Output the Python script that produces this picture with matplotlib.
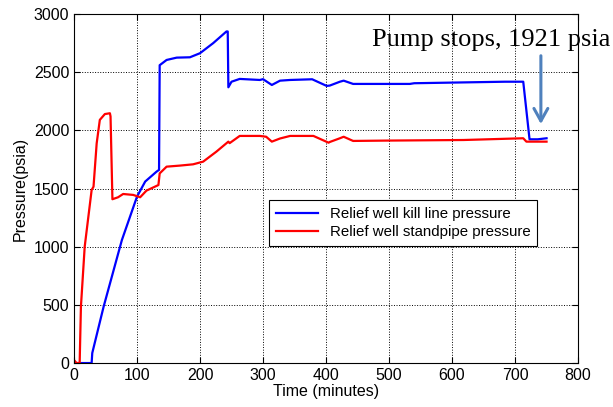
import matplotlib.pyplot as plt

# kill line pressure (blue)
kill_t = [0, 28, 29, 47, 76, 100, 113, 131, 135, 136, 147, 163, 184, 200, 221, 242, 244,
          245, 250, 263, 295, 300, 314, 327, 343, 378, 401, 406, 422, 428, 443, 533, 540,
          684, 713, 723, 736, 750]
kill_p = [0, 0, 86, 484, 1057, 1430, 1560, 1645, 1660, 2560, 2605, 2625, 2628, 2663,
          2750, 2850, 2850, 2370, 2418, 2442, 2433, 2440, 2390, 2427, 2433, 2439, 2382,
          2385, 2418, 2427, 2399, 2399, 2405, 2418, 2418, 1923, 1923, 1932]

# standpipe pressure (red)
stand_t = [0, 4, 9, 11, 17, 28, 31, 36, 41, 49, 57, 58, 61, 70, 78, 94, 105, 115, 134,
           136, 147, 168, 189, 205, 226, 245, 247, 263, 295, 305, 314, 327, 343, 380, 404,
           406, 422, 428, 443, 497, 618, 713, 718, 750]
stand_p = [26, 0, 0, 484, 1000, 1487, 1516, 1888, 2090, 2140, 2147, 2120, 1408, 1425,
           1453, 1445, 1425, 1482, 1530, 1630, 1688, 1697, 1708, 1731, 1817, 1903, 1890,
           1952, 1952, 1945, 1903, 1930, 1952, 1952, 1894, 1900, 1932, 1945, 1909, 1912,
           1917, 1932, 1903, 1903]

fig = plt.figure(figsize=(6.13, 4.07), dpi=100)
ax = fig.add_axes([0.1207, 0.108, 0.8223, 0.8576])

ax.plot(kill_t, kill_p, color="#0000ff", lw=1.6, label="Relief well kill line pressure")
ax.plot(stand_t, stand_p, color="#ff0000", lw=1.6, label="Relief well standpipe pressure")

ax.set_xlim(0, 800)
ax.set_ylim(0, 3000)
ax.set_xticks(range(0, 801, 100))
ax.set_yticks(range(0, 3001, 500))
ax.grid(True, color="black", linestyle=":", linewidth=0.7)
ax.tick_params(direction="in", top=True, right=True, labelsize=11.5, length=4)
for s in ax.spines.values():
    s.set_linewidth(0.8)
for lab in ax.get_xticklabels() + ax.get_yticklabels():
    lab.set_family("Liberation Sans")

ax.set_xlabel("Time (minutes)", family="Liberation Sans", fontsize=11.5, labelpad=1)
ax.set_ylabel("Pressure(psia)", family="Liberation Sans", fontsize=11.5, labelpad=4)

leg = ax.legend(loc="upper left", bbox_to_anchor=(0.387, 0.467), borderaxespad=0,
                fancybox=False, framealpha=1, edgecolor="black",
                prop={"family": "Liberation Sans", "size": 10.8},
                borderpad=0.45, handlelength=2.8, labelspacing=0.3)
leg.get_frame().set_linewidth(0.8)

ax.annotate("", xy=(741, 2030), xytext=(741, 2665),
            arrowprops=dict(arrowstyle="->,head_length=0.9,head_width=0.5",
                            color="#4f81bd", lw=2.2))
ax.text(0.827, 0.925, "Pump stops, 1921 psia", transform=ax.transAxes,
        family="Liberation Serif", fontsize=19, ha="center", va="center")

fig.savefig("out.png", dpi=100)
